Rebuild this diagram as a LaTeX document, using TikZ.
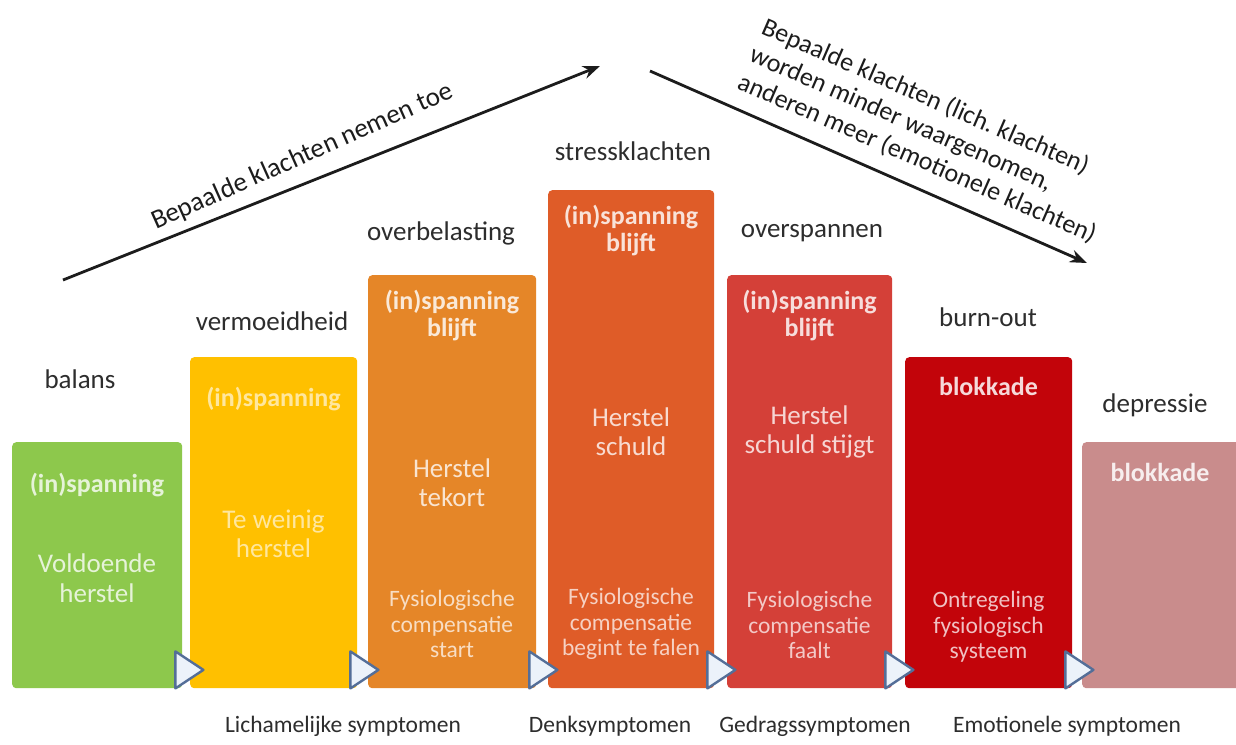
\documentclass[tikz,border=0pt]{standalone}
\usepackage{fontspec}
\setmainfont{Carlito}
\usetikzlibrary{arrows.meta}
\frenchspacing

\definecolor{cGreen}{RGB}{141,200,76}
\definecolor{cYellow}{RGB}{255,192,0}
\definecolor{cOrange}{RGB}{229,134,40}
\definecolor{cDkOrange}{RGB}{223,92,40}
\definecolor{cRed}{RGB}{212,64,56}
\definecolor{cDkRed}{RGB}{194,4,10}
\definecolor{cPink}{RGB}{201,140,140}
\definecolor{stageGray}{RGB}{45,45,45}
\definecolor{triEdge}{RGB}{84,110,152}
\definecolor{triFill}{RGB}{236,242,250}
\definecolor{arrowInk}{RGB}{28,28,28}

\begin{document}
\begin{tikzpicture}[x=1pt,y=-1pt,
  bar/.style={rectangle, rounded corners=4pt, inner sep=0pt, anchor=north west, draw=none},
  stage/.style={font=\fontsize{27}{30}\selectfont, text=stageGray, inner sep=0pt},
  hdr/.style={font=\bfseries\fontsize{26}{27}\selectfont, align=center, inner sep=0pt},
  mid/.style={font=\fontsize{27}{29}\selectfont, align=center, inner sep=0pt},
  low/.style={font=\fontsize{23.5}{25.5}\selectfont, align=center, inner sep=0pt},
  sym/.style={font=\fontsize{23.5}{26}\selectfont, text=stageGray, inner sep=0pt},
  slant/.style={text=arrowInk, inner sep=0pt},
  tri/.style={draw=triEdge, line width=2.4pt, fill=triFill, line join=round},
  trend/.style={draw=arrowInk, line width=2.8pt, -{Stealth[length=17pt,width=13pt]}}
]
\useasboundingbox (0,0) rectangle (1236,744);
\fill[white] (0,0) rectangle (1236,744);

% ---------- stage bars ----------
\node[bar, fill=cGreen,    minimum width=170pt, minimum height=246pt] (b1) at (12,442)   {};
\node[bar, fill=cYellow,   minimum width=167pt, minimum height=331pt] (b2) at (190,357)  {};
\node[bar, fill=cOrange,   minimum width=168pt, minimum height=413pt] (b3) at (368,275)  {};
\node[bar, fill=cDkOrange, minimum width=166pt, minimum height=498pt] (b4) at (548,190)  {};
\node[bar, fill=cRed,      minimum width=165pt, minimum height=413pt] (b5) at (727,275)  {};
\node[bar, fill=cDkRed,    minimum width=167pt, minimum height=331pt] (b6) at (905,357)  {};
\node[bar, fill=cPink,     minimum width=160pt, minimum height=246pt] (b7) at (1082,442) {};

% ---------- stage names ----------
\node[stage] (s1) at (80,379)   {balans};
\node[stage] (s2) at (272,321)  {vermoeidheid};
\node[stage] (s3) at (441,233)  {overbelasting};
\node[stage] (s4) at (633,151)  {stressklachten};
\node[stage] (s5) at (812,233)  {overspannen};
\node[stage] (s6) at (988,317)  {burn-out};
\node[stage] (s7) at (1155,405) {depressie};

% ---------- texts inside the bars ----------
\node[hdr, text=white!78!cGreen] (h1) at (97,485) {(in)spanning};
\node[mid, text=white!78!cGreen] (m1) at (97,578) {Voldoende\\[1pt]herstel};

\node[hdr, text=white!62!cYellow] (h2) at (273.5,399) {(in)spanning};
\node[mid, text=white!62!cYellow] (m2) at (273.5,534) {Te weinig\\herstel};

\node[hdr, text=white!82!cOrange] (h3) at (452,316) {(in)spanning\\blijft};
\node[mid, text=white!78!cOrange] (m3) at (452,483) {Herstel\\tekort};
\node[low, text=white!72!cOrange] (l3) at (452,624) {Fysiologische\\compensatie\\start};

\node[hdr, text=white!82!cDkOrange] (h4) at (631,231) {(in)spanning\\blijft};
\node[mid, text=white!78!cDkOrange] (m4) at (631,432) {Herstel\\schuld};
\node[low, text=white!72!cDkOrange] (l4) at (631,624) {Fysiologische\\compensatie\\begint te falen};

\node[hdr, text=white!82!cRed] (h5) at (809.5,316) {(in)spanning\\blijft};
\node[mid, text=white!78!cRed] (m5) at (809.5,432) {Herstel\\schuld stijgt};
\node[low, text=white!72!cRed] (l5) at (809.5,625) {Fysiologische\\compensatie\\faalt};

\node[hdr, text=white!85!cDkRed] (h6) at (988.5,386) {blokkade};
\node[low, text=white!75!cDkRed] (l6) at (988.5,627) {Ontregeling\\fysiologisch\\systeem};

\node[hdr, text=white!85!cPink] (h7) at (1160,472) {blokkade};

% ---------- step markers ----------
\foreach \b in {b1,b2,b3,b4,b5,b6}
  \draw[tri] ([xshift=-7pt]\b.south east) -- ++(0,-37) -- ++(28,18.5) -- cycle;

% ---------- trend arrows ----------
\coordinate (u0) at (63,280);
\coordinate (u1) at (600,66);
\coordinate (d0) at (650,71);
\coordinate (d1) at (1087,263);
\draw[trend] (u0) -- (u1);
\draw[trend] (d0) -- (d1);

\node[slant, font=\fontsize{27}{30}\selectfont, rotate=24, anchor=base west]
  (ut) at (156,230) {Bepaalde klachten nemen toe};
\node[slant, font=\fontsize{26}{30}\selectfont, rotate=-23.5, anchor=north west, align=left]
  (dt) at (767.5,15.5) {Bepaalde klachten (lich. klachten)\\worden minder waargenomen,\\anderen meer (emotionele klachten)};

% ---------- symptom groups ----------
\node[sym] (g1) at (343,726)  {Lichamelijke symptomen};
\node[sym] (g2) at (610,726)  {Denksymptomen};
\node[sym] (g3) at (815,726)  {Gedragssymptomen};
\node[sym] (g4) at (1067,726) {Emotionele symptomen};
\end{tikzpicture}
\end{document}
